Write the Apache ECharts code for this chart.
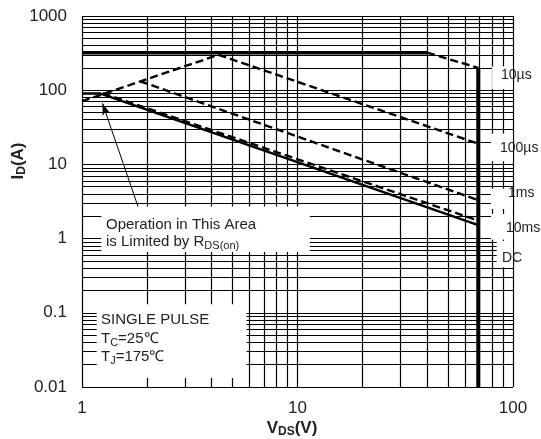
<!DOCTYPE html>
<html>
<head>
<meta charset="utf-8">
<script src="https://cdn.jsdelivr.net/npm/echarts/dist/echarts.min.js"></script>
<style>
html,body{margin:0;padding:0;background:#fff;}
#chart{width:541px;height:439px;}
</style>
</head>
<body>
<div id="chart"></div>
<script>
// ---- tick labels ----
const vdsTicks = [1, 10, 100];
const idTicks = [0.01, 0.1, 1, 10, 100, 1000];
// ---- grid line values ----
const vdsGrid = [1,2,3,4,5,6,7,8,9,10,20,30,40,50,60,70,80,90,100];
const idGrid = [0.01,0.02,0.03,0.04,0.05,0.06,0.07,0.08,0.09,
                0.1,0.2,0.3,0.4,0.5,0.6,0.7,0.8,0.9,
                1,2,3,4,5,6,7,8,9,
                10,20,30,40,50,60,70,80,90,
                100,200,300,400,500,600,700,800,900,1000];
// ---- SOA boundary series [VDS, ID] ----
const packageLimit = [[1, 320], [40, 320]];
const pulse10us = [[40, 320], [69, 200]];
const voltageLimit = [[69, 200], [69, 0.01]];
const rdsonLimit = [[1, 71], [4.3, 300]];
const pulse100us = [[4.3, 300], [69, 19]];
const pulse1ms = [[1.86, 132], [69, 3.3]];
const pulse10ms = [[1.25, 91], [69, 1.75]];
const dcLine = [[1, 90], [1.22, 90], [69, 1.52]];
// ---- annotation arrow (from text box to RDS(on) line) ----
const arrowFrom = [1.82, 2.7];
const arrowTo = [1.245, 66.6];
// ---- white label backgrounds (data space) ----
const maskBoxes = [
  [[1.23, 0.66], [11.4, 2.7]],
  [[1.17, 0.0132], [5.8, 0.13]],
  [[80, 103], [110, 210]],
  [[79, 11], [110, 26]],
  [[79, 2.5], [110, 4.7]],
  [[79, 0.97], [110, 2.15]],
  [[84, 0.41], [110, 0.93]]
];

const FONT = 'Liberation Sans, Arial, sans-serif';
const chart = echarts.init(document.getElementById('chart'));

function fmt(ticks){
  return function(v){
    for (const t of ticks){ if (Math.abs(Math.log10(t) - Math.log10(v)) < 1e-6) return String(t); }
    return '';
  };
}
function dataLine(d, width, dashed){
  return {
    type: 'line', data: d, z: 3, showSymbol: false, symbol: 'none', silent: true,
    lineStyle: { color: '#000', width: width, type: dashed ? [8, 4] : 'solid', cap: 'butt' }
  };
}
function txt(x, y, text, size, opts){
  opts = opts || {};
  const rich = {
    n: { fontSize: size, lineHeight: size + 3, fontFamily: FONT, fontWeight: opts.bold ? 'bold' : 'normal', fill: '#222', color: '#222' },
    s: { fontSize: Math.round(size * 0.7), lineHeight: Math.round(size * 0.7), verticalAlign: 'bottom', fontFamily: FONT, fontWeight: opts.bold ? 'bold' : 'normal', fill: '#222', color: '#222' }
  };
  return {
    type: 'text', x: x, y: y, rotation: opts.rot || 0, z: 100, silent: true,
    style: {
      text: text, rich: rich, fill: '#222', fontSize: size, fontFamily: FONT,
      fontWeight: opts.bold ? 'bold' : 'normal',
      textAlign: opts.align || 'left', align: opts.align || 'left',
      textVerticalAlign: 'middle', verticalAlign: 'middle'
    }
  };
}

const option = {
  animation: false,
  backgroundColor: '#fff',
  grid: { left: 82, right: 28, top: 16, bottom: 52 },
  xAxis: {
    type: 'log', logBase: 10, min: 1, max: 100,
    axisLine: { show: false }, axisTick: { show: false }, splitLine: { show: false },
    axisLabel: { fontSize: 17, color: '#222', fontFamily: FONT, margin: 13, formatter: fmt(vdsTicks) }
  },
  yAxis: {
    type: 'log', logBase: 10, min: 0.01, max: 1000,
    axisLine: { show: false }, axisTick: { show: false }, splitLine: { show: false },
    axisLabel: { fontSize: 17, color: '#222', fontFamily: FONT, margin: 15, formatter: fmt(idTicks) }
  },
  series: [
    {
      type: 'line', data: [], z: 1, silent: true,
      markLine: {
        silent: true, symbol: 'none', z: 1, animation: false,
        label: { show: false },
        lineStyle: { color: '#000', width: 1.2, type: 'solid' },
        emphasis: { disabled: true },
        data: vdsGrid.map(v => ({ xAxis: v })).concat(idGrid.map(i => ({ yAxis: i })))
      }
    },
    {
      type: 'line', data: [], z: 2, silent: true,
      markArea: {
        silent: true, z: 2,
        itemStyle: { color: '#fff', opacity: 1, borderWidth: 0 },
        emphasis: { disabled: true },
        data: maskBoxes.map(b => [{ coord: b[0] }, { coord: b[1] }])
      }
    },
    dataLine(packageLimit, 3.5, false),
    dataLine(pulse10us, 2.4, true),
    dataLine(voltageLimit, 4, false),
    dataLine(rdsonLimit, 2.4, true),
    dataLine(pulse100us, 2.4, true),
    dataLine(pulse1ms, 2.4, true),
    dataLine(pulse10ms, 2.4, true),
    dataLine(dcLine, 2.5, false),
    {
      type: 'line', data: [], z: 4, silent: true,
      markLine: {
        silent: true, z: 4, symbol: ['none', 'arrow'], symbolSize: [6, 12],
        label: { show: false },
        lineStyle: { color: '#000', width: 1, type: 'solid' },
        emphasis: { disabled: true },
        data: [[{ coord: arrowFrom }, { coord: arrowTo }]]
      }
    }
  ],
  graphic: [
    txt(18, 161, '{n|I}{s|D}{n|(A)}', 17, { bold: true, rot: Math.PI / 2, align: 'center' }),
    txt(292, 428, '{n|V}{s|DS}{n|(V)}', 17, { bold: true, align: 'center' }),
    txt(106, 225, '{n|Operation in This Area}', 15),
    txt(106, 242, '{n|is Limited by R}{s|DS(on)}', 15),
    txt(101, 320, '{n|SINGLE PULSE}', 15),
    txt(101, 339, '{n|T}{s|C}{n|=25℃}', 15),
    txt(101, 357, '{n|T}{s|J}{n|=175℃}', 15),
    txt(501, 75, '{n|10µs}', 14),
    txt(500, 148, '{n|100µs}', 14),
    txt(508, 193, '{n|1ms}', 14),
    txt(506, 228, '{n|10ms}', 14),
    txt(502, 258, '{n|DC}', 14)
  ]
};
chart.setOption(option);
</script>
</body>
</html>
